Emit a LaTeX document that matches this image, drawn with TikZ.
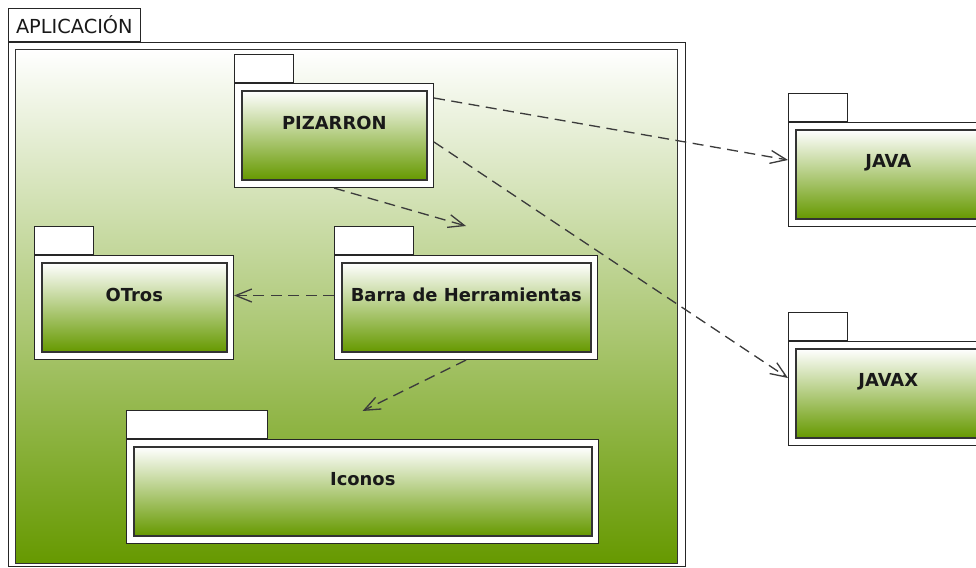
\documentclass[tikz,border=0pt]{standalone}
\usepackage{fontspec}
\setmainfont{DejaVu Sans}
\usetikzlibrary{arrows.meta}

\definecolor{pkggreen}{RGB}{102,153,0}
\definecolor{depgray}{RGB}{60,60,60}

\tikzset{
  pkgbody/.style={draw=black!85, fill=white, line width=0.6pt, inner sep=0pt},
  pkgtab/.style={pkgbody, minimum height=0.56cm},
  pkginner/.style={draw=black!80, line width=0.9pt, top color=white, bottom color=pkggreen, inner sep=0pt},
  frameinner/.style={pkginner, line width=0.6pt},
  pkglabel/.style={font=\bfseries\fontsize{10.2}{12}\selectfont, text=black!90, inner sep=0pt},
  dependency/.style={draw=depgray, line width=0.75pt, dash pattern=on 2.2mm off 1.3mm,
    -{Straight Barb[length=3.2mm,width=2.6mm]}}
}

% package: name, x, y, width, height, tab width, label
\newcommand{\umlpkg}[7]{%
  \node[pkgbody, anchor=north west, minimum width=#4cm, minimum height=#5cm] (#1) at (#2,#3) {};
  \node[pkgtab, anchor=south west, minimum width=#6cm] (#1-tab) at (#1.north west) {};
  \node[pkginner, anchor=north west, minimum width={#4cm-0.28cm}, minimum height={#5cm-0.30cm}]
    (#1-in) at ([xshift=0.14cm,yshift=-0.14cm]#1.north west) {};
  \node[pkglabel] (#1-label) at ([yshift=0.24cm]#1-in.center) {#7};
}

\begin{document}
\begin{tikzpicture}

    \useasboundingbox (0,0) rectangle (19.52,-11.34);
    \clip (0,0) rectangle (19.52,-11.34);

    % The enclosing package
    \node[pkgbody, anchor=north west, minimum width=13.54cm, minimum height=10.48cm] (aplicacion) at (0.16,-0.84) {};
    \node[pkgbody, anchor=south west, minimum height=0.66cm, inner xsep=0.15cm,
      font=\fontsize{11}{13}\selectfont, text=black!90] (aplicacion-tab) at (aplicacion.north west) {APLICACIÓN};
    \node[frameinner, anchor=north west, minimum width=13.24cm, minimum height=10.28cm]
      (aplicacion-in) at ([xshift=0.14cm,yshift=-0.14cm]aplicacion.north west) {};

    % Defining the packages
    \umlpkg{pizarron}{4.68}{-1.66}{3.98}{2.08}{1.18}{PIZARRON}
    \umlpkg{otros}{0.68}{-5.10}{3.98}{2.08}{1.18}{OTros}
    \umlpkg{barra}{6.68}{-5.10}{5.26}{2.08}{1.58}{Barra de Herramientas}
    \umlpkg{iconos}{2.52}{-8.78}{9.44}{2.08}{2.82}{Iconos}
    \umlpkg{java}{15.76}{-2.44}{3.98}{2.08}{1.18}{JAVA}
    \umlpkg{javax}{15.76}{-6.82}{3.98}{2.08}{1.18}{JAVAX}

    % Dependencies
    \draw[dependency] ([yshift=-0.30cm]pizarron.north east) -- ([yshift=-0.76cm]java.north west);
    \draw[dependency] ([yshift=-1.18cm]pizarron.north east) -- ([yshift=-0.74cm]javax.north west);
    \draw[dependency] (pizarron.south) -- ([yshift=0.58cm]barra.north);
    \draw[dependency] ([yshift=0.24cm]barra.west) -- ([yshift=0.24cm]otros.east);
    \draw[dependency] (barra.south) -- ([yshift=0.56cm]iconos.north);

\end{tikzpicture}
\end{document}
